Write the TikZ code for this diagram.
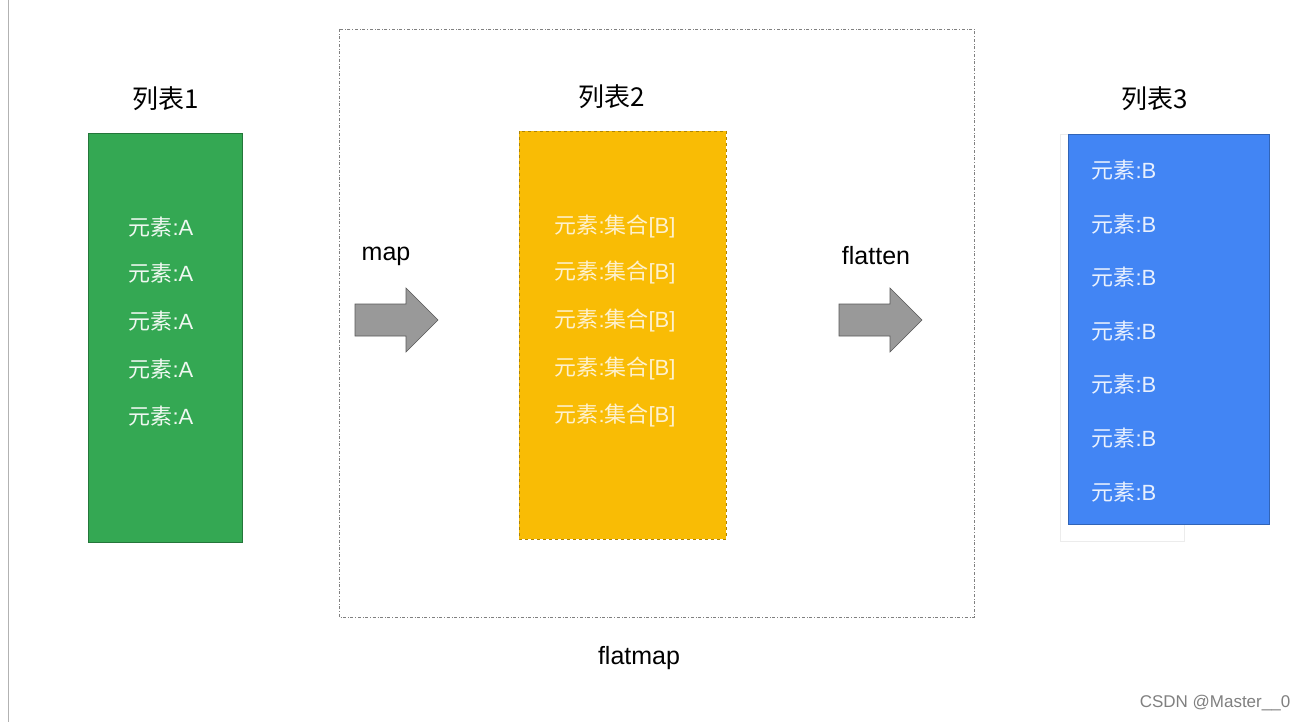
\documentclass[tikz,border=0pt]{standalone}
\usepackage{fontspec}
\setmainfont{Liberation Sans}
\newfontfamily\cjk{Noto Sans CJK SC}
\definecolor{gr}{HTML}{34A853}
\definecolor{ye}{HTML}{F9BC05}
\definecolor{bl}{HTML}{4285F4}
\definecolor{arr}{HTML}{999999}
\begin{document}
\begin{tikzpicture}[x=1pt,y=-1pt,
  title/.style={font=\fontsize{26}{30}\selectfont\cjk, text=black},
  item/.style={font=\fontsize{22}{26}\selectfont, inner sep=0},
  lbl/.style={font=\fontsize{25}{30}\selectfont, text=black},
  barrow/.style={fill=arr, draw=gray!70!black, line width=0.6pt}]
\useasboundingbox (0,0) rectangle (1312,722);
\fill[white] (0,0) rectangle (1312,722);
\draw[gray!60] (8,0) -- (8,722);
% group box
\draw[gray, dash dot, line width=0.6pt] (339,29) rectangle (974,617);
% list 1
\node[title] (t1) at (166,99) {列表1};
\draw[fill=gr, draw=gr!70!black] (88,133) rectangle (242,542);
\foreach \y [count=\i] in {227,273,321,369,416}
  \node[item, text=white!92!gr] (a\i) at (161,\y) {{\cjk 元素}:A};
% list 2
\node[title] (t2) at (612,97) {列表2};
\draw[fill=ye, draw=ye!70!black, dashed] (519,131) rectangle (726,539);
\foreach \y [count=\i] in {227,273,321,369,416}
  \node[item, text=white!80!ye] (b\i) at (615,\y) {{\cjk 元素}:{\cjk 集合}[B]};
% list 3
\draw[gray!15] (1060,134) rectangle (1184,541);
\node[title] (t3) at (1155,99) {列表3};
\draw[fill=bl, draw=bl!75!black] (1068,134) rectangle (1269,524);
\foreach \y [count=\i] in {170,224,277,331,384,438,492}
  \node[item, text=white!88!bl] (c\i) at (1124,\y) {{\cjk 元素}:B};
% arrows
\node[lbl] (m) at (386,256) {map};
\draw[barrow] (355,304) -- (406,304) -- (406,288) -- (438,320) -- (406,352) -- (406,336) -- (355,336) -- cycle;
\node[lbl] (f) at (876,256) {flatten};
\draw[barrow] (839,304) -- (890,304) -- (890,288) -- (922,320) -- (890,352) -- (890,336) -- (839,336) -- cycle;
\node[lbl] (fm) at (639,658) {flatmap};
\node[font=\fontsize{17}{20}\selectfont, text=gray] (w) at (1215,703) {CSDN @Master\_\_0};
\end{tikzpicture}
\end{document}
